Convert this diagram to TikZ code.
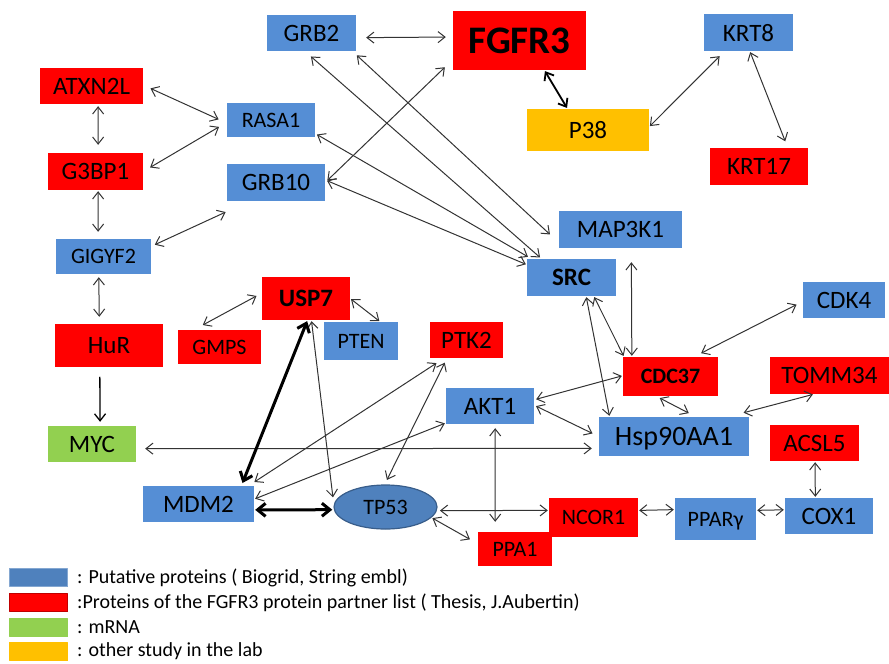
\documentclass[tikz,border=0pt]{standalone}
\usepackage{fontspec}
\setmainfont{Carlito}
\usetikzlibrary{arrows.meta,shapes.geometric}
\definecolor{blau}{HTML}{558ED5}
\definecolor{rot}{HTML}{FF0000}
\definecolor{dunkelrot}{HTML}{C00000}
\definecolor{gruen}{HTML}{92D050}
\definecolor{gelb}{HTML}{FFC000}
\definecolor{tpblau}{HTML}{4F81BD}
\definecolor{tprand}{HTML}{385D8A}
\begin{document}
\begin{tikzpicture}[x=1pt,y=-1pt,line cap=round,line join=round,
  >={Straight Barb[length=7pt,width=11pt]},
  kasten/.style 2 args={rectangle,inner sep=0pt,minimum width=#1pt,minimum height=#2pt,text depth=0pt},
  putativ/.style={fill=blau},
  partner/.style={fill=rot},
  boten/.style={fill=gruen},
  studie/.style={fill=gelb},
  gross/.style={font=\fontsize{25}{30}\selectfont},
  klein/.style={font=\fontsize{22}{26}\selectfont},
  pfeil/.style={draw=black!80,line width=1pt,<->},
  dick/.style={draw=black,line width=3pt,>={Straight Barb[length=8pt,width=13pt]},<->}]
\useasboundingbox (0,0) rectangle (889,664);
% Proteine und mRNA als farbige Kaesten
\node[putativ,kasten={89}{36},gross] (grb2) at (311.5,33) {GRB2};
\node[partner,kasten={133}{59},font=\fontsize{39}{44}\selectfont\bfseries] (fgfr3) at (519.5,40.5) {FGFR3};
\node[putativ,kasten={89}{37},gross] (krt8) at (748.5,32.5) {KRT8};
\node[partner,kasten={103}{36},gross] (atxn2l) at (91.5,86) {ATXN2L};
\node[putativ,kasten={88}{34},klein] (rasa1) at (271,120) {RASA1};
\node[partner,kasten={95}{37},gross] (g3bp1) at (95.5,171.5) {G3BP1};
\node[putativ,kasten={98}{37},gross] (grb10) at (276,182.5) {GRB10};
\node[studie,kasten={122}{42},gross] (p38) at (588,130) {P38};
\node[partner,kasten={98}{37},gross] (krt17) at (759,166.5) {KRT17};
\node[putativ,kasten={123}{37},gross] (map3k1) at (620.5,229.5) {MAP3K1};
\node[putativ,kasten={89}{37},gross] (src) at (571.5,277.5) {\textbf{SRC}};
\node[putativ,kasten={95}{35},klein] (gigyf2) at (103.5,256.5) {GIGYF2};
\node[partner,kasten={88}{43},gross] (usp7) at (306,298.5) {\textbf{USP7}};
\node[putativ,kasten={74}{38},klein] (pten) at (361,341) {PTEN};
\node[partner,kasten={108}{43},gross] (hur) at (109,345.5) {HuR};
\node[partner,kasten={83}{34},klein] (gmps) at (219.5,347) {GMPS};
\node[partner,kasten={73}{36},gross] (ptk2) at (466.5,340) {PTK2};
\node[putativ,kasten={82}{36},gross] (cdk4) at (844,300) {CDK4};
\node[partner,kasten={95}{39},klein] (cdc37) at (670.5,376.5) {\textbf{CDC37}};
\node[partner,kasten={119}{37},gross] (tomm34) at (829.5,375.5) {TOMM34};
\node[putativ,kasten={88}{36},gross] (akt1) at (490,406) {AKT1};
\node[putativ,kasten={150}{39},font=\fontsize{28}{32}\selectfont] (hsp) at (674,436.5) {Hsp90AA1};
\node[partner,kasten={89}{36},gross] (acsl5) at (814.5,443) {ACSL5};
\node[boten,kasten={88}{36},gross] (myc) at (92,444) {MYC};
\node[putativ,kasten={111}{36},gross] (mdm2) at (198.5,504) {MDM2};
\node[ellipse,fill=tpblau,draw=tprand,line width=1.2pt,inner sep=0pt,minimum width=103pt,minimum height=44pt,klein] (tp53) at (385.5,507) {TP53};
\node[partner,kasten={74}{34},klein] (ppa1) at (515,549) {PPA1};
\node[partner,kasten={89}{39},klein] (ncor1) at (593.5,517.5) {NCOR1};
\node[putativ,kasten={81}{42},klein] (ppar) at (715.5,519) {PPARγ};
\node[putativ,kasten={88}{36},gross] (cox1) at (829,516) {COX1};
% Wechselwirkungen (Ankerwinkel / Abstand am Anfang / am Ende)
\foreach \von/\nach/\a/\b in {grb2.-6.4/fgfr3.177.8/10/7, atxn2l.1.9/rasa1.184.2/8/9,
  g3bp1.0/rasa1.183.6/8/9, atxn2l.-70.1/g3bp1.82.3/2/8, g3bp1.-82.3/gigyf2.107.4/1/7,
  gigyf2.12.7/grb10.215.9/4/26, gigyf2.255.6/hur.114.9/3/7, usp7.173.9/gmps.146.8/6/10,
  usp7.-0.9/pten.45/1/1, usp7.-76.9/tp53.177.8/1/7, mdm2.20.8/ptk2.219.7/7/9,
  mdm2.5.8/akt1.201.8/1/1, tp53.92.6/ptk2.223.5/5/5, akt1.-74.5/ppa1.139.6/4/10,
  tp53.-4.5/ncor1.171.7/3/1, tp53.-13.9/ppa1.172.9/1/9, ncor1.9.6/ppar.167.5/1/1,
  ppar.12.5/cox1.172.2/1/1, acsl5.-88.4/cox1.127.9/1/1, myc.-6.5/hsp.189.5/9/7,
  akt1.1.3/hsp.180/2/7, akt1.8.4/cdc37.179/2/1, src.-52.3/hsp.163.8/1/1,
  src.-40.1/cdc37.157.2/1/1, map3k1.-60.4/cdc37.153.7/14/1, cdk4.182.1/cdc37.40.7/7/8,
  cdc37.234.7/hsp.42.3/4/8, tomm34.230/hsp.20.3/1/16, p38.3.8/krt8.218.2/1/7,
  krt8.-86.6/krt17.33.7/1/7, grb2.250.1/src.148.7/8/2, grb2.-24.2/map3k1.192.6/6/12,
  fgfr3.196.7/grb10.0.7/11/3, rasa1.-17.4/src.155.8/2/4, grb10.3.9/src.164.3/2/1}
  \draw[pfeil,shorten <=\a pt,shorten >=\b pt] (\von) -- (\nach);
\draw[pfeil,->,draw=black,line width=1.3pt,shorten <=10pt,shorten >=4pt] (hur.247.3) -- (myc.66);
\draw[pfeil,draw=black,line width=1.8pt,shorten <=1pt,shorten >=1pt] (fgfr3.-50.3) -- (p38.134.2);
\draw[dick,shorten <=1pt,shorten >=3pt] (usp7.-86.3) -- (mdm2.23.5);
\draw[dick,shorten <=1pt,shorten >=1.5pt] (mdm2.-6.2) -- (tp53.183.4);
% Legende
\foreach \i/\farbe/\rand/\y/\was in {1/tpblau/tpblau!70!white/577.5/{: Putative proteins ( Biogrid, String embl)},
  2/rot/dunkelrot/602.5/{:Proteins of the FGFR3 protein partner list ( Thesis, J.Aubertin)},
  3/gruen/gruen/627.5/{: mRNA}, 4/gelb/gelb/651.5/{: other study in the lab}}{
 \node[kasten={58}{18},fill=\farbe,draw=\rand,line width=1.2pt] (leg\i) at (38.5,\y) {};
 \node[font=\fontsize{20}{24}\selectfont,anchor=west,inner sep=0pt] (legtext\i) at (77,\y) {\was};
}
\end{tikzpicture}
\end{document}
